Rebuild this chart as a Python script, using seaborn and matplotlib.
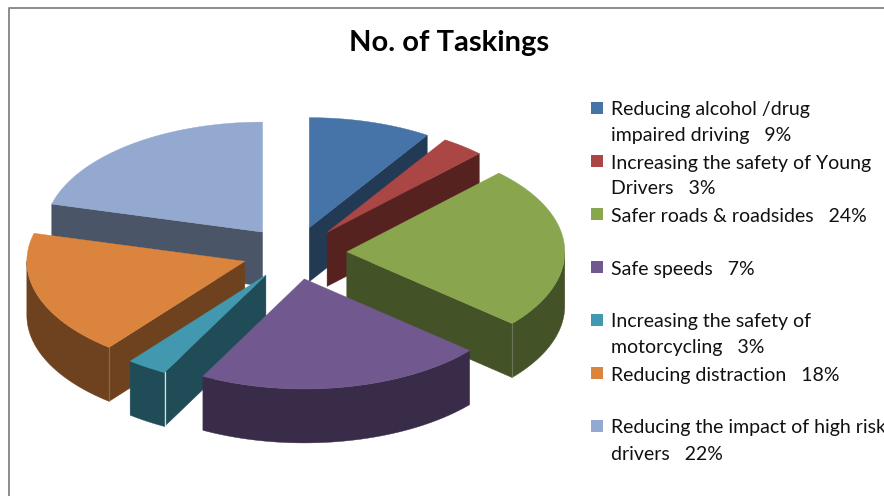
import numpy as np
import matplotlib
matplotlib.use('Agg')
import matplotlib.pyplot as plt
import seaborn as sns

# shares as drawn in the pie, the labels below carry the printed percentages
categories = ['Alcohol', 'Young', 'Roads', 'Speeds', 'Motorcycling', 'Distraction', 'High risk']
shares = [9.1, 3.2, 24, 21.4, 3, 18.4, 20.9]
labels = [
    ['Reducing alcohol /drug', 'impaired driving   9%'],
    ['Increasing the safety of Young', 'Drivers   3%'],
    ['Safer roads & roadsides   24%'],
    ['Safe speeds   7%'],
    ['Increasing the safety of', 'motorcycling   3%'],
    ['Reducing distraction   18%'],
    ['Reducing the impact of high risk', 'drivers   22%'],
]
top_colors = ['#4674A9', '#AA4643', '#89A54E', '#71588F', '#4198AF', '#DB843D', '#93A9CF']
wall_colors = ['#233A55', '#552220', '#445227', '#392C48', '#204C58', '#6E421F', '#4A5568']

# pie layout in pixels
cx, cy = 294.5, 253
rx, ry = 218, 110
explode = 0.24
depth = 54

sns.set_theme(style='white')
plt.rcParams['font.family'] = ['Lato', 'DejaVu Sans']

fig, ax = plt.subplots(figsize=(8.84, 4.96), dpi=100)
ax.set_position([0, 0, 1, 1])
ax.set_xlim(0, 884)
ax.set_ylim(496, 0)
ax.axis('off')

# chart frame
ax.plot([8.5, 8.5, 884], [496, 8, 8], color='#8C8C8C', linewidth=1.4)

edges = np.cumsum([0] + shares) / sum(shares) * 2 * np.pi


def rim(ox, oy, t):
    return ox + rx * np.sin(t), oy - ry * np.cos(t)


def draw_slice(i):
    t0, t1 = edges[i], edges[i + 1]
    mid = (t0 + t1) / 2
    ox = cx + explode * rx * np.sin(mid)
    oy = cy - explode * ry * np.cos(mid)

    # cut face towards the viewer
    if np.sin(t0) < 0:
        edge = t0
    elif np.sin(t1) > 0:
        edge = t1
    else:
        edge = None
    if edge is not None:
        ex, ey = rim(ox, oy, edge)
        ax.fill([ox, ex, ex, ox], [oy, ey, ey + depth, oy + depth],
                color=wall_colors[i], linewidth=0.3)

    # outer wall, only the front half of the rim shows
    a0, a1 = max(t0, np.pi / 2), min(t1, 3 * np.pi / 2)
    if a1 > a0:
        ts = np.linspace(a0, a1, 80)
        x, y = rim(ox, oy, ts)
        ax.fill(np.r_[x, x[::-1]], np.r_[y, y[::-1] + depth],
                color=wall_colors[i], linewidth=0.3)
        # light corner where the cut face meets the outer wall
        if edge is not None:
            ex, ey = rim(ox, oy, edge)
            ax.plot([ex, ex], [ey, ey + depth], color='#E8F0F2',
                    linewidth=0.9, alpha=0.9 if categories[i] == 'Motorcycling' else 0.2)

    ts = np.linspace(t0, t1, 120)
    x, y = rim(ox, oy, ts)
    ax.fill(np.r_[ox, x], np.r_[oy, y], color=top_colors[i], linewidth=0.3)


# back slices first
mids = (edges[:-1] + edges[1:]) / 2
for i in np.argsort(-np.cos(mids)):
    draw_slice(i)

ax.text(449, 43, 'No. of Taskings', ha='center', va='center',
        fontsize=21, fontweight='bold', color='black')

# legend
row_y = [108 + n * 53 for n in range(len(categories))]
sns.scatterplot(x=[597] * len(categories), y=row_y, hue=categories, palette=top_colors,
                marker='s', s=78, linewidth=0, legend=False, ax=ax)
ax.set_xlim(0, 884)
ax.set_ylim(496, 0)
ax.axis('off')
for y, lines in zip(row_y, labels):
    for n, line in enumerate(lines):
        ax.text(611, y + 2 + n * 26, line, ha='left', va='center',
                fontsize=14, color='#111111')

plt.savefig('out.png', dpi=100)
plt.close()
